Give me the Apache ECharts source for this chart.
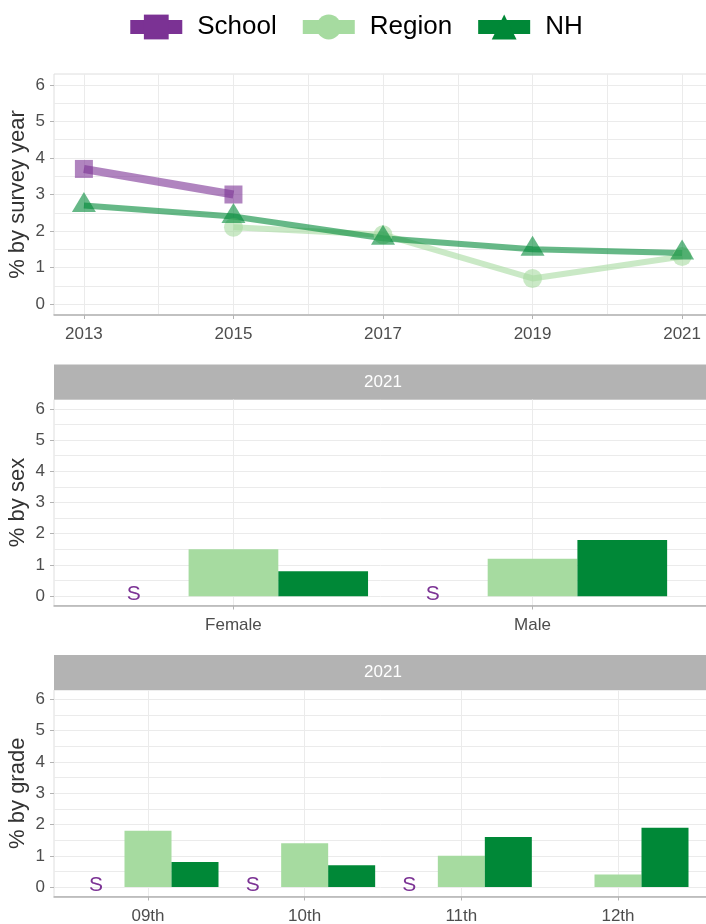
<!DOCTYPE html>
<html><head><meta charset="utf-8">
<script src="https://cdn.jsdelivr.net/npm/echarts@6/dist/echarts.min.js"></script>
<style>html,body{margin:0;padding:0;background:#fff}#c{width:706px;height:924px}</style>
</head><body><div id="c"></div><script>
// ---- data ----
const years = [2013, 2015, 2017, 2019, 2021];
const schoolYear = [3.7, 3.0, null, null, null];
const regionYear = [null, 2.1, 1.9, 0.7, 1.3];
const nhYear = [2.7, 2.4, 1.8, 1.5, 1.4];
const yearTicks = [2013, 2015, 2017, 2019, 2021];
const yearGrid = [2013, 2014, 2015, 2016, 2017, 2018, 2019, 2020, 2021];

const stripLabel = '2021';
const sexCats = ['Female', 'Male'];
const schoolSex = [0, 0];            // suppressed values
const schoolSexLabel = ['S', 'S'];
const regionSex = [1.5, 1.2];
const nhSex = [0.8, 1.8];

const gradeCats = ['09th', '10th', '11th', '12th'];
const schoolGrade = [0, 0, 0, null]; // suppressed values
const schoolGradeLabel = ['S', 'S', 'S', ''];
const regionGrade = [1.8, 1.4, 1.0, 0.4];
const nhGrade = [0.8, 0.7, 1.6, 1.9];

const yTicks = [0, 1, 2, 3, 4, 5, 6];
const yMinor = [0, 0.5, 1, 1.5, 2, 2.5, 3, 3.5, 4, 4.5, 5, 5.5, 6];

// ---- styles ----
const FONT = '"Liberation Sans", Arial, sans-serif';
const C_SCHOOL = '#7b3294', C_REGION = '#a6dba0', C_NH = '#008837';
const GRIDC = '#ebebeb', TXT = '#4d4d4d';

const grids = [
  {left: 54, top: 74, width: 658, height: 241},
  {left: 54, top: 399.5, width: 658, height: 206},
  {left: 54, top: 690, width: 658, height: 206.5}
].map(g => Object.assign(g, {show: true, borderColor: '#dedede', borderWidth: 1,
  backgroundColor: 'transparent', containLabel: false, outerBoundsMode: 'none'}));

function yAxes(gi, name) {
  return [
    {type: 'value', gridIndex: gi, min: -0.3, max: 6.3, position: 'left',
     axisLine: {show: false, onZero: false}, axisTick: {show: false, customValues: yMinor},
     axisLabel: {show: false}, splitLine: {show: true, lineStyle: {color: GRIDC, width: 1}}},
    {type: 'value', gridIndex: gi, min: -0.3, max: 6.3, position: 'left',
     axisLine: {show: false, onZero: false},
     axisTick: {show: true, customValues: yTicks, length: 4, lineStyle: {color: '#b3b3b3'}},
     axisLabel: {customValues: yTicks, fontSize: 17, color: TXT, margin: 9, fontFamily: FONT},
     splitLine: {show: false},
     name: name, nameLocation: 'middle', nameRotate: 90, nameGap: 25, nameMoveOverlap: false,
     nameTextStyle: {fontSize: 22, color: '#333', fontFamily: FONT}}
  ];
}

function xAxes(gi, min, max, gridVals, tickVals, fmt) {
  return [
    {type: 'value', gridIndex: gi, min: min, max: max, position: 'bottom',
     axisLine: {show: false, onZero: false}, axisTick: {show: false, customValues: gridVals},
     axisLabel: {show: false}, splitLine: {show: true, lineStyle: {color: GRIDC, width: 1}}},
    {type: 'value', gridIndex: gi, min: min, max: max, position: 'bottom',
     axisLine: {show: true, onZero: false, lineStyle: {color: '#b3b3b3', width: 1.5}},
     axisTick: {show: true, customValues: tickVals, length: 4, lineStyle: {color: '#b3b3b3'}},
     axisLabel: {customValues: tickVals, formatter: fmt, fontSize: 17, color: TXT, margin: 11, fontFamily: FONT},
     splitLine: {show: false}}
  ];
}

const sexIdx = sexCats.map((c, i) => i + 1);
const gradeIdx = gradeCats.map((c, i) => i + 1);

const xAxis = [].concat(
  xAxes(0, 2012.6, 2021.4, yearGrid, yearTicks, v => String(v)),
  xAxes(1, 0.4, sexCats.length + 0.6, sexIdx, sexIdx, v => sexCats[Math.round(v) - 1]),
  xAxes(2, 0.4, gradeCats.length + 0.6, gradeIdx, gradeIdx, v => gradeCats[Math.round(v) - 1])
);
const yAxis = [].concat(
  yAxes(0, '% by survey year'),
  yAxes(1, '% by sex'),
  yAxes(2, '% by grade')
);

function lineSeries(name, vals, color, symbol, size, width, offset) {
  return {
    type: 'line', name: name, xAxisIndex: 0, yAxisIndex: 0,
    data: years.map((y, i) => [y, vals[i]]),
    symbol: symbol, symbolSize: size, symbolOffset: offset || [0, 0],
    showSymbol: true,
    lineStyle: {color: color, width: width, opacity: 0.6},
    itemStyle: {color: color, opacity: 0.6},
    emphasis: {disabled: true}, animation: false
  };
}

function barSeries(name, gi, idx, vals, color, extra) {
  return Object.assign({
    type: 'bar', name: name, xAxisIndex: gi * 2, yAxisIndex: gi * 2,
    data: idx.map((x, i) => [x, vals[i]]),
    barWidth: '30%', barGap: '0%',
    itemStyle: {color: color},
    emphasis: {disabled: true}, animation: false
  }, extra || {});
}

function sLabel(labels, dx) {
  return {label: {show: true, position: 'inside', offset: [dx, -2],
    formatter: p => labels[p.dataIndex], color: C_SCHOOL, fontSize: 21, fontFamily: FONT}};
}

const series = [
  lineSeries('Region', regionYear, C_REGION, 'circle', 19, 6),
  lineSeries('NH', nhYear, C_NH, 'triangle', [24, 20], 6, [0, -3.5]),
  lineSeries('School', schoolYear, C_SCHOOL, 'rect', 18, 8),
  barSeries('School', 1, sexIdx, schoolSex, C_SCHOOL, sLabel(schoolSexLabel, -10)),
  barSeries('Region', 1, sexIdx, regionSex, C_REGION),
  barSeries('NH', 1, sexIdx, nhSex, C_NH),
  barSeries('School', 2, gradeIdx, schoolGrade, C_SCHOOL, sLabel(schoolGradeLabel, -5)),
  barSeries('Region', 2, gradeIdx, regionGrade, C_REGION),
  barSeries('NH', 2, gradeIdx, nhGrade, C_NH)
];

function strip(top) {
  return [
    {type: 'rect', silent: true, shape: {x: 54, y: top, width: 660, height: 35}, style: {fill: '#b3b3b3'}},
    {type: 'text', silent: true, x: 383, y: top + 17.5,
     style: {text: stripLabel, fill: '#ffffff', font: '17px ' + FONT, textAlign: 'center', textVerticalAlign: 'middle'}}
  ];
}

const chart = echarts.init(document.getElementById('c'), null, {renderer: 'canvas'});
chart.setOption({
  animation: false,
  backgroundColor: '#ffffff',
  textStyle: {fontFamily: FONT},
  legend: {
    data: ['School', 'Region', 'NH'],
    left: 'center', top: 9,
    itemWidth: 52, itemHeight: 31, itemGap: 19,
    itemStyle: {opacity: 1},
    lineStyle: {opacity: 1, width: 14},
    textStyle: {fontSize: 26, color: '#000', fontFamily: FONT, padding: [0, 0, 0, 10]},
    selectedMode: false
  },
  grid: grids,
  xAxis: xAxis,
  yAxis: yAxis,
  series: series,
  graphic: [].concat(strip(364.5), strip(655))
});
</script></body></html>
